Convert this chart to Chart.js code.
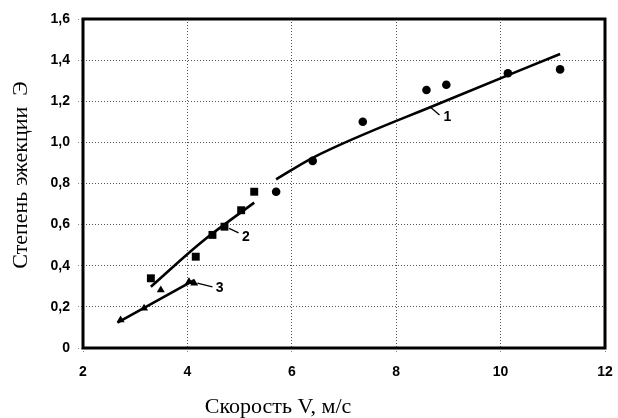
<!DOCTYPE html>
<html>
<head>
<meta charset="utf-8">
<script src="https://cdn.jsdelivr.net/npm/chart.js@4/dist/chart.umd.min.js"></script>
<style>
  html, body { margin: 0; padding: 0; background: #fff; }
  #wrap { width: 618px; height: 418px; position: relative; }
</style>
</head>
<body>
<div id="wrap"><canvas id="c" width="618" height="418"></canvas></div>
<script>
// ---- Data ----
const xTicks = [2, 4, 6, 8, 10, 12];
const yTicks = [0, 0.2, 0.4, 0.6, 0.8, 1.0, 1.2, 1.4, 1.6];

// Series 1 (circles)
const s1X = [5.70, 6.40, 7.36, 8.58, 8.96, 10.14, 11.14];
const s1Y = [0.76, 0.91, 1.10, 1.255, 1.28, 1.336, 1.355];
// Series 2 (squares)
const s2X = [3.30, 4.16, 4.48, 4.71, 5.03, 5.28];
const s2Y = [0.339, 0.444, 0.55, 0.59, 0.67, 0.76];
// Series 3 (triangles)
const s3X = [2.72, 3.17, 3.49, 4.03, 4.13];
const s3Y = [0.136, 0.193, 0.282, 0.322, 0.315];

// Fitted curves
const fit1X = [5.70, 6.40, 8.93, 11.14];
const fit1Y = [0.82, 0.925, 1.20, 1.43];
const fit2X = [3.30, 4.28, 5.28];
const fit2Y = [0.298, 0.517, 0.707];
const fit3X = [2.66, 4.13];
const fit3Y = [0.123, 0.33];

// Curve labels: text, text position, leader line start/end (data units)
const curveLabels = ['1', '2', '3'];
const labelAt   = [[8.98, 1.125], [5.12, 0.541], [4.62, 0.290]];
const leaderFrom = [[8.64, 1.174], [4.80, 0.582], [4.19, 0.316]];
const leaderTo   = [[8.83, 1.133], [4.98, 0.560], [4.48, 0.297]];

const xTitle = 'Скорость V, м/с';
const yTitle = 'Степень эжекции  Э';

const pts = (xs, ys) => xs.map((x, i) => ({ x: x, y: ys[i] }));

const annotPlugin = {
  id: 'annot',
  afterDatasetsDraw(chart) {
    const ctx = chart.ctx, xs = chart.scales.x, ys = chart.scales.y;
    ctx.save();
    ctx.strokeStyle = '#000';
    ctx.lineWidth = 1.3;
    ctx.fillStyle = '#000';
    ctx.font = 'bold 14px "Liberation Sans", Arial, sans-serif';
    ctx.textAlign = 'center';
    ctx.textBaseline = 'middle';
    curveLabels.forEach((t, i) => {
      ctx.beginPath();
      ctx.moveTo(xs.getPixelForValue(leaderFrom[i][0]), ys.getPixelForValue(leaderFrom[i][1]));
      ctx.lineTo(xs.getPixelForValue(leaderTo[i][0]), ys.getPixelForValue(leaderTo[i][1]));
      ctx.stroke();
      ctx.fillText(t, xs.getPixelForValue(labelAt[i][0]), ys.getPixelForValue(labelAt[i][1]));
    });
    ctx.restore();
  },
  afterDraw(chart) {
    const ctx = chart.ctx, a = chart.chartArea;
    ctx.save();
    ctx.strokeStyle = '#000';
    ctx.lineWidth = 3;
    ctx.strokeRect(a.left, a.top, a.right - a.left, a.bottom - a.top);
    ctx.fillStyle = '#000';
    ctx.font = '22px "Liberation Serif", "Times New Roman", serif';
    ctx.textAlign = 'center';
    ctx.textBaseline = 'alphabetic';
    ctx.fillText(xTitle, 278, 413);
    ctx.textBaseline = 'middle';
    ctx.translate(21, 175);
    ctx.rotate(-Math.PI / 2);
    ctx.fillText(yTitle, 0, 0);
    ctx.restore();
  }
};

const gridCommon = {
  color: '#555',
  lineWidth: 1,
  tickLength: 5,
  tickColor: '#888',
  tickBorderDash: [1, 2]
};

new Chart(document.getElementById('c'), {
  type: 'scatter',
  data: {
    datasets: [
      { label: 'fit1', data: pts(fit1X, fit1Y), showLine: true, borderColor: '#000', borderWidth: 2.6,
        pointRadius: 0, tension: 0.4, cubicInterpolationMode: 'monotone', fill: false },
      { label: 'fit2', data: pts(fit2X, fit2Y), showLine: true, borderColor: '#000', borderWidth: 2.6,
        pointRadius: 0, tension: 0.4, cubicInterpolationMode: 'monotone', fill: false },
      { label: 'fit3', data: pts(fit3X, fit3Y), showLine: true, borderColor: '#000', borderWidth: 2.6,
        pointRadius: 0, fill: false },
      { label: '1', data: pts(s1X, s1Y), pointStyle: 'circle', pointRadius: 4.3,
        backgroundColor: '#000', borderColor: '#000', borderWidth: 0 },
      { label: '2', data: pts(s2X, s2Y), pointStyle: 'rect', pointRadius: 5.6,
        backgroundColor: '#000', borderColor: '#000', borderWidth: 0 },
      { label: '3', data: pts(s3X, s3Y), pointStyle: 'triangle', pointRadius: 4.6,
        backgroundColor: '#000', borderColor: '#000', borderWidth: 0 }
    ]
  },
  options: {
    responsive: false,
    animation: false,
    layout: { padding: { left: 0, right: 13, top: 19, bottom: 0 } },
    plugins: { legend: { display: false }, tooltip: { enabled: false }, title: { display: false } },
    scales: {
      x: {
        type: 'linear', min: 2, max: 12,
        afterBuildTicks(scale) { scale.ticks = xTicks.map(v => ({ value: v })); },
        afterFit(scale) { scale.height = 70; scale.paddingLeft = 0; scale.paddingRight = 0; },
        grid: gridCommon,
        border: { display: false, dash: [1, 2] },
        ticks: {
          padding: 11, color: '#000',
          font: { family: '"Liberation Sans", Arial, sans-serif', size: 14, weight: 'bold' },
          callback: v => String(v), maxRotation: 0, autoSkip: false
        }
      },
      y: {
        type: 'linear', min: 0, max: 1.6,
        afterBuildTicks(scale) { scale.ticks = yTicks.map(v => ({ value: v })); },
        afterFit(scale) { scale.width = 83; scale.paddingTop = 0; scale.paddingBottom = 0; },
        grid: gridCommon,
        border: { display: false, dash: [1, 2] },
        ticks: {
          padding: 8, color: '#000',
          font: { family: '"Liberation Sans", Arial, sans-serif', size: 14, weight: 'bold' },
          callback: v => (Math.abs(v) < 1e-9 ? '0' : v.toFixed(1).replace('.', ',')),
          autoSkip: false
        }
      }
    }
  },
  plugins: [annotPlugin]
});
</script>
</body>
</html>
